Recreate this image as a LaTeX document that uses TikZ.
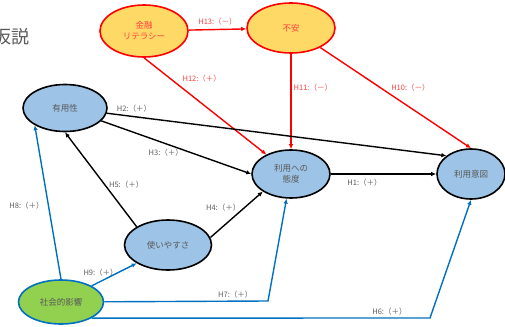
\documentclass[tikz,border=0pt]{standalone}
\usepackage{fontspec}
\setmainfont{Noto Sans CJK JP}
\usepackage{xcolor}
\usepackage{tikz}
\usetikzlibrary{arrows.meta,shapes.geometric}
\definecolor{FactorBlue}{HTML}{9DC3E6}
\definecolor{RiskYellow}{HTML}{FFD966}
\definecolor{SocialGreen}{HTML}{92D050}
\definecolor{PathRed}{HTML}{FF0000}
\definecolor{PathBlue}{HTML}{0070C0}
\definecolor{LabelGray}{HTML}{595959}
\definecolor{LabelRed}{HTML}{FF4040}

\begin{document}
\begin{tikzpicture}[
  x=1pt, y=-1pt,
  factor/.style={ellipse,draw,line width=1.6pt,fill=FactorBlue,inner sep=0pt,align=center,
    font=\fontsize{8.5}{11}\selectfont,text=LabelGray},
  risk/.style={factor,draw=PathRed,fill=RiskYellow,text=LabelRed},
  social/.style={factor,draw=PathBlue,fill=SocialGreen},
  arrow/.style={-{Latex[length=5pt,width=4.5pt]},line width=1.4pt},
  redarrow/.style={arrow,draw=PathRed},
  bluearrow/.style={arrow,draw=PathBlue},
  lbl/.style={font=\fontsize{7.5}{9}\selectfont,text=LabelGray,inner sep=1pt},
  redlbl/.style={lbl,text=LabelRed}
]
  \useasboundingbox (0,0) rectangle (505,326);

  \node[font=\fontsize{18}{20}\selectfont,text=LabelGray] (title) at (12,37) {仮説};

  % constructs
  \node[risk, minimum width=88pt, minimum height=52pt] (fin) at (144,31) {金融\\リテラシー};
  \node[risk, minimum width=88pt, minimum height=50pt] (anx) at (291,28) {不安};
  \node[factor, minimum width=84pt, minimum height=47pt] (use) at (65,108) {有用性};
  \node[factor, minimum width=78pt, minimum height=48pt] (att) at (291,174) {利用への\\態度};
  \node[factor, minimum width=68pt, minimum height=50pt] (int) at (471,174) {利用意図};
  \node[factor, minimum width=87pt, minimum height=50pt] (ease) at (168,245) {使いやすさ};
  \node[social, minimum width=85pt, minimum height=44pt] (soc) at (61,302) {社会的影響};

  % bends of the long paths
  \coordinate (h7c) at (268,301);
  \coordinate (h6c) at (430,318);

  % hypotheses
  \draw[redarrow] (fin) -- node[redlbl, above=3pt] {H13:（－）} (anx);
  \draw[redarrow] (fin.south) -- node[redlbl, pos=0.22, right=10pt] {H12:（＋）} (att);
  \draw[redarrow] (anx.south) -- node[redlbl, pos=0.36, right=1pt] {H11:（－）} (att.north);
  \draw[redarrow] (anx) -- node[redlbl, pos=0.4, right=9pt] {H10:（－）} (int.north);
  \draw[arrow] (use) -- node[lbl, pos=0.08, above=3pt] {H2:（＋）} (int.north west);
  \draw[arrow] (use) -- node[lbl, pos=0.43, below=4pt] {H3:（＋）} (att.west);
  \draw[arrow] (ease.north west) -- node[lbl, pos=0.45, right=3pt] {H5:（＋）} (use.south);
  \draw[arrow] (ease.10) -- node[lbl, pos=0.64, left=2pt] {H4:（＋）} (att.south west);
  \draw[arrow] (att) -- node[lbl, pos=0.32, below=3pt] {H1:（＋）} (int);
  \draw[bluearrow] (soc.north) -- node[lbl, pos=0.48, left=3pt] {H8:（＋）} (use.south west);
  \draw[bluearrow] (soc.north east) -- node[lbl, pos=0.2, above=3pt] {H9:（＋）} (ease.south west);
  \draw[bluearrow] (soc) -- node[lbl, pos=0.8, above=1pt] {H7:（＋）} (h7c) -- (att);
  \draw[bluearrow] (soc.south east) -- node[lbl, pos=0.88, above=1pt] {H6:（＋）} (h6c) -- (int.south);
\end{tikzpicture}
\end{document}
